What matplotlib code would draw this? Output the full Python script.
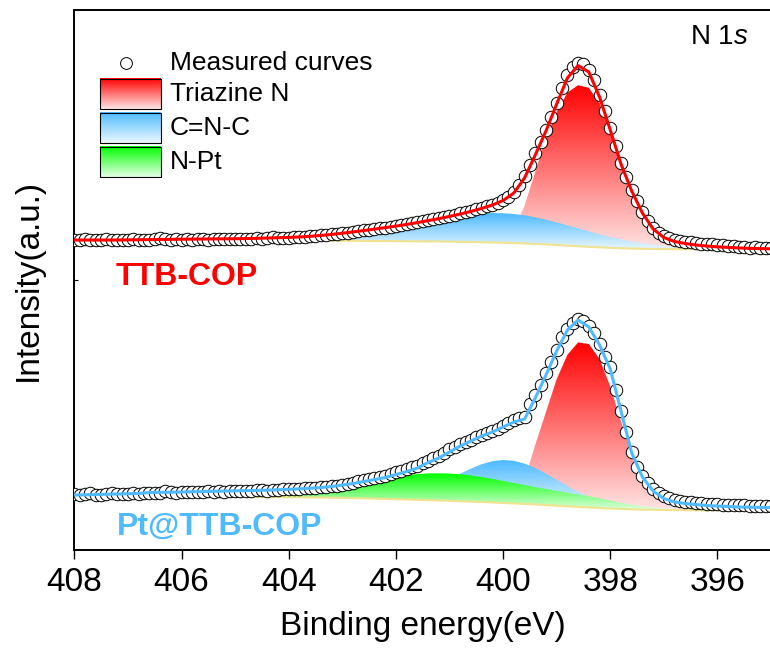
import numpy as np
import matplotlib
matplotlib.use("Agg")
import matplotlib.pyplot as plt
from matplotlib.path import Path
from matplotlib.patches import PathPatch, Rectangle

plt.rcParams["font.family"] = "Liberation Sans"
plt.rcParams["mathtext.fontset"] = "custom"
plt.rcParams["mathtext.rm"] = "Liberation Sans"
plt.rcParams["mathtext.it"] = "Liberation Sans:italic"

# ---- data (intensity in a.u., binding energy in eV) ----
# measured points, 408.0 -> 395.0 eV, step 0.1 eV
top_meas = [
    10.5, 10, 11, 10, 10.5, 10, 11, 10.5, 10, 10.5,
    10, 11, 10.5, 10, 10.5, 11, 12.5, 11.5, 10.5, 11,
    10.5, 11, 10.5, 11, 11, 10.5, 11, 11.5, 11, 11,
    11.5, 11, 11.5, 11.5, 12, 11.5, 12, 13, 12, 12.5,
    12.5, 13, 13.5, 13.5, 14, 14.5, 15, 15.5, 16, 16.5,
    17, 17.5, 18.5, 19, 20, 20.5, 21, 22, 22.5, 23.5,
    24, 25, 26, 27, 28, 29, 30, 31, 32, 33,
    34, 35.5, 37, 38, 39.5, 41, 42.5, 44, 45.5, 47,
    50, 53, 58, 65, 74, 85, 97, 108, 120, 133,
    147, 162, 175, 183, 187, 186, 180, 170, 155, 139,
    122, 104, 87, 73, 60, 49, 38, 29, 22, 17,
    14, 12, 10.5, 9.5, 8.5, 8, 7.5, 6.5, 6, 6,
    5, 5, 4, 4, 3.5, 3, 2.5, 3, 2.5, 2,
    2,
]
bot_meas = [
    17.5, 16, 17.5, 18, 16.5, 16, 17, 18, 17.5, 17,
    17.5, 18, 17.5, 18, 18.5, 18, 18.5, 20, 19, 18.5,
    19, 19.5, 19, 19.5, 19.5, 20, 19.5, 20, 19.5, 20,
    20, 20.5, 20.5, 20, 21, 21, 20.5, 21.5, 21.5, 22,
    22, 22.5, 22.5, 23, 23, 23.5, 24, 24.5, 25, 25.5,
    26.5, 27.5, 28.5, 30, 31.5, 32.5, 33.5, 34.5, 35.5, 37,
    39, 40.5, 42, 44, 45.5, 48, 50.5, 53, 55.5, 58.5,
    62, 64.5, 67, 69.5, 71.5, 74, 76.5, 78.5, 80.5, 82.5,
    85, 88, 91, 93, 94.5, 107, 116, 126, 138, 149,
    161, 174, 182, 188.5, 192.5, 190, 185.5, 178, 167, 154,
    144, 121, 100, 79, 59, 44, 35, 28, 22.5, 18.5,
    15.5, 13, 11.5, 10.5, 9.5, 9, 8.5, 8, 7.5, 7,
    7, 6.5, 6.5, 6, 6, 6, 5.5, 5.5, 5, 5,
    5,
]

# fitted curves, 408.0 -> 395.0 eV, step 0.2 eV
top_base = [
    9.5, 9.5, 9.5, 9.5, 9.5, 9.5, 9.5, 9.5, 9.5, 9.5, 9.5,
    9.5, 9.5, 9.5, 9.5, 9.5, 9.5, 9.5, 9.5, 9.5, 9.5,
    9.5, 9.5, 9.4, 9.3, 9.3, 9.2, 9.1, 9.0, 9.0, 8.9,
    8.8, 8.7, 8.6, 8.5, 8.4, 8.2, 8.0, 7.8, 7.6, 7.3,
    7.0, 6.6, 6.1, 5.6, 5.0, 4.4, 3.8, 3.2, 2.7, 2.2,
    1.8, 1.5, 1.3, 1.1, 1.0, 0.9, 0.85, 0.8, 0.75, 0.7,
    0.65, 0.6, 0.55, 0.5, 0.5,
]
top_triazine = [0] * 38 + [
    0.5, 1.5, 5, 14, 37.5, 72, 106, 133, 153, 161, 159,
    144, 116, 86, 61, 37.5, 21, 9, 4, 2, 1, 0.5,
] + [0] * 6
top_cnc = [0] * 15 + [
    0.1, 0.1, 0.2, 0.3, 0.5,
    0.7, 1.1, 1.5, 2.1, 2.8, 3.8, 4.9, 6.4, 8.0, 9.9,
    12.1, 14.4, 16.8, 19.2, 21.7, 23.9, 25.9, 27.5, 28.7, 29.4,
    29.5, 29.0, 28.1, 26.6, 24.7, 22.6, 20.2, 17.8, 15.3, 13.0,
    10.8, 8.8, 7.0, 5.5, 4.2, 3.2, 2.4, 1.7, 1.2, 0.9,
    0.6, 0.4, 0.3, 0.2, 0.1, 0.1,
]
top_fit = [
    10, 10, 10, 10, 10, 10.2, 10.3, 10.4, 10.6, 10.7, 10.8,
    10.9, 11.0, 11.1, 11.2, 11.3, 11.5, 11.7, 12.0, 12.3, 12.6,
    13.1, 13.7, 14.6, 15.6, 16.8, 18.1, 19.5, 20.9, 22.4, 23.9,
    25.6, 27.4, 29.4, 31.4, 33.6, 36, 38.6, 41.6, 45, 49.5,
    57, 72, 95, 119, 146, 172, 184.5, 178, 153, 120,
    86, 59, 37, 21, 12.5, 8.5, 6.5, 5, 4, 3.2,
    2.6, 2.1, 1.7, 1.4, 1.2,
]

bot_base = [
    14.5, 14.5, 14.5, 14.4, 14.4, 14.4, 14.4, 14.3, 14.3, 14.3, 14.3,
    14.2, 14.2, 14.2, 14.1, 14.1, 14.0, 14.0, 13.9, 13.9, 13.8,
    13.7, 13.6, 13.5, 13.3, 13.1, 12.9, 12.7, 12.4, 12.1, 11.8,
    11.5, 11.2, 10.9, 10.5, 10.2, 9.8, 9.4, 9.0, 8.6, 8.1,
    7.6, 7.1, 6.6, 6.0, 5.4, 4.7, 4.1, 3.5, 3.0, 2.5,
    2.1, 1.7, 1.4, 1.2, 1.0, 0.9, 0.8, 0.7, 0.65, 0.6,
    0.55, 0.5, 0.45, 0.4, 0.4,
]
bot_triazine = [0] * 39 + [
    1, 3, 9, 24, 59.5, 93, 126.5, 151.5, 164.5, 163.5,
    149, 122, 87.5, 57, 32, 16, 6, 2.5, 1, 0.5,
] + [0] * 7
bot_cnc = [0] * 25 + [
    0.1, 0.3, 0.7, 1.2, 2.1, 3.5, 5.5, 8.3, 12.1, 16.6,
    21.9, 27.6, 33.0, 37.8, 41.2, 42.9, 42.6, 40.3, 36.5, 31.4,
    25.9, 20.3, 15.2, 10.9, 7.4, 4.8, 3.0, 1.8, 1.0, 0.5,
    0.3, 0.1,
] + [0] * 9
bot_npt = [0] * 12 + [
    0.5, 0.8, 1.2, 1.8, 2.5, 3.3, 4.0, 4.8, 5.7,
    6.8, 8.0, 9.3, 10.8, 12.6, 14.5, 16.5, 18.5, 20.5, 22.6,
    24.3, 25.7, 26.7, 27.2, 27.3, 27.0, 26.2, 25.0, 23.6, 22.0,
    20.3, 18.8, 17.3, 16.0, 14.8, 13.6, 12.5, 11.3, 9.9, 8.0,
    6.2, 4.6, 3.3, 2.3, 1.6, 1.1, 0.7, 0.4, 0.2, 0.1,
] + [0] * 5
bot_fit = [
    16, 16.2, 16.5, 16.8, 17, 17.3, 17.6, 18.5, 18.7, 18.8, 19,
    19.3, 19.5, 19.7, 20, 20.2, 20.4, 20.6, 20.9, 21.3, 21.7,
    22.2, 22.8, 23.5, 24.5, 26, 27.5, 29.5, 31.5, 33.5, 36.5,
    39.5, 43, 48.5, 53, 59, 65, 70, 75, 79, 84,
    89, 92, 113, 136, 160, 181, 191, 184, 166, 142,
    100, 58, 34, 20, 12.5, 9, 7.5, 6.5, 5.5, 5,
    4.5, 4, 3.8, 3.6, 3.5,
]

top_offset = 300
bot_offset = 39

x_meas = np.linspace(408, 395, 131)
x_fit = np.linspace(408, 395, 66)

RED = (1.0, 0.0, 0.0)
BLUE = (0.30, 0.73, 1.0)
GREEN = (0.0, 1.0, 0.0)
YELLOW = "#efe38f"
LIGHTBLUE = "#4fbaff"


def gradient(color, n=256):
    # full colour at the top, fading to an almost white tint at the bottom
    t = np.linspace(0, 1, n)[:, None]
    c = np.array(color)[None, :]
    light = 1 - (1 - c) * 0.1
    return (c * (1 - t) + light * t).reshape(n, 1, 3)


def grad_fill(ax, x, base, comp, color, z):
    lower = np.asarray(base, float)
    upper = lower + np.asarray(comp, float)
    verts = np.vstack([np.column_stack([x, upper]),
                       np.column_stack([x[::-1], lower[::-1]])])
    patch = PathPatch(Path(verts), facecolor="none", edgecolor="none")
    ax.add_patch(patch)
    im = ax.imshow(gradient(color), extent=[x.min(), x.max(), lower.min(), upper.max()],
                   aspect="auto", origin="upper", interpolation="bilinear", zorder=z)
    im.set_clip_path(patch)


fig = plt.figure(figsize=(7.7, 6.51), dpi=100)
ax = fig.add_axes([0.0965, 0.1551, 0.9049, 0.8295])

# TTB-COP (upper)
tb = np.array(top_base) + top_offset
grad_fill(ax, x_fit, tb, top_triazine, RED, 1)
grad_fill(ax, x_fit, tb, top_cnc, BLUE, 2)
ax.plot(x_fit, tb, color=YELLOW, lw=1.5, zorder=4)
ax.plot(x_meas, np.array(top_meas) + top_offset, "o", ms=9, mfc="white",
        mec="black", mew=0.7, zorder=5)
ax.plot(x_fit, np.array(top_fit) + top_offset, color=RED, lw=2.2, zorder=6)

# Pt@TTB-COP (lower)
bb = np.array(bot_base) + bot_offset
grad_fill(ax, x_fit, bb, bot_triazine, RED, 1)
grad_fill(ax, x_fit, bb, bot_cnc, BLUE, 2)
grad_fill(ax, x_fit, bb, bot_npt, GREEN, 3)
ax.plot(x_fit, bb, color=YELLOW, lw=1.5, zorder=4)
ax.plot(x_meas, np.array(bot_meas) + bot_offset, "o", ms=9, mfc="white",
        mec="black", mew=0.7, zorder=5)
ax.plot(x_fit, np.array(bot_fit) + bot_offset, color=LIGHTBLUE, lw=2.2, zorder=6)

# sample names and core level
ax.text(0.0586, 0.5056, "TTB-COP", transform=ax.transAxes, color=RED,
        fontsize=23, fontweight="bold", va="center", ha="left")
ax.text(0.0616, 0.0426, "Pt@TTB-COP", transform=ax.transAxes, color=LIGHTBLUE,
        fontsize=23, fontweight="bold", va="center", ha="left")
ax.text(0.967, 0.95, r"N $\mathit{1s}$", transform=ax.transAxes, fontsize=20,
        va="center", ha="right")

# hand-made legend with gradient boxes
ax.plot([0.0742], [0.901], "o", ms=8.5, mfc="white", mec="black", mew=0.7,
        transform=ax.transAxes, clip_on=False, zorder=10)
ax.text(0.1373, 0.901, "Measured curves", transform=ax.transAxes, fontsize=19,
        va="center", ha="left")
legend_rows = [("Triazine N", RED, 0.8167), ("C=N-C", BLUE, 0.7537), ("N-Pt", GREEN, 0.6907)]
for label, color, y0 in legend_rows:
    ax.imshow(gradient(color), extent=[0.0369, 0.1244, y0, y0 + 0.0556],
              transform=ax.transAxes, aspect="auto", origin="upper",
              interpolation="bilinear", zorder=10)
    ax.add_patch(Rectangle((0.0369, y0), 0.0875, 0.0556, transform=ax.transAxes,
                           fill=False, edgecolor="black", lw=0.8, zorder=11))
    ax.text(0.1373, y0 + 0.0278, label, transform=ax.transAxes, fontsize=19,
            va="center", ha="left")

ax.set_xlim(408, 395)
ax.set_ylim(0, 540)
ax.set_xticks([408, 406, 404, 402, 400, 398, 396])
ax.tick_params(axis="x", direction="out", length=6.5, width=1.0, labelsize=24, pad=5.5)
ax.set_yticks([270])
ax.tick_params(axis="y", direction="in", length=3, width=0.8, labelleft=False)
for s in ax.spines.values():
    s.set_linewidth(1.4)

ax.set_xlabel("Binding energy(eV)", fontsize=24)
ax.set_ylabel("Intensity(a.u.)", fontsize=24)
ax.xaxis.set_label_coords(0.5, -0.113)
ax.yaxis.set_label_coords(-0.0435, 0.5)

fig.savefig("out.png", dpi=100)
